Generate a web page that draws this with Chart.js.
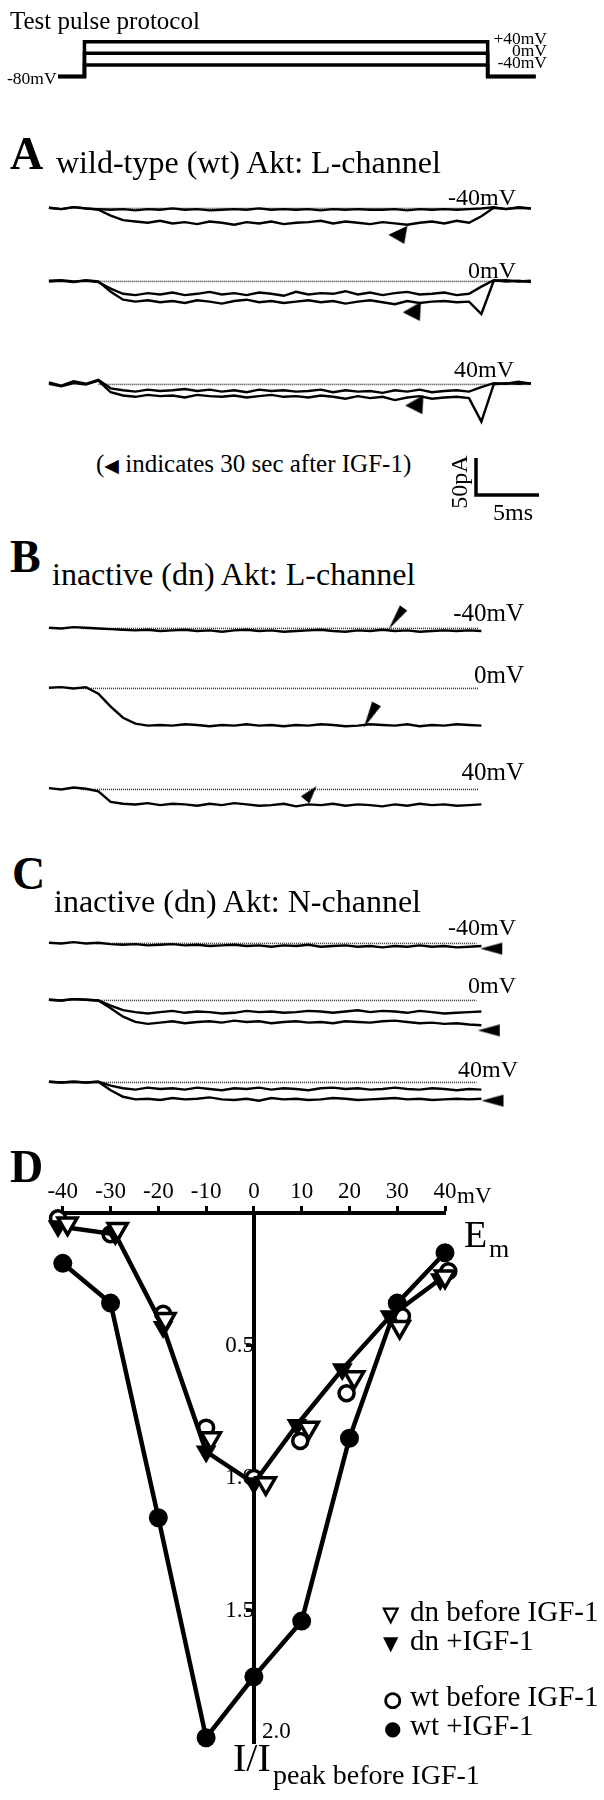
<!DOCTYPE html>
<html>
<head>
<meta charset="utf-8">
<script src="https://cdn.jsdelivr.net/npm/chart.js@4/dist/chart.umd.min.js"></script>
<style>
body { margin: 0; background: #fff; }
#page { position: relative; width: 604px; height: 1800px; overflow: hidden; font-family: "Liberation Serif", "Times New Roman", serif; color: #000; }
#page canvas { position: absolute; }
.t { position: absolute; white-space: nowrap; line-height: 1; }
.g { font-family: "DejaVu Sans", sans-serif; }
</style>
</head>
<body>
<div id="page"></div>
<script>
// ---- test pulse protocol ----
var protoTime = [0, 2.1, 2.1, 34.1, 34.1, 37.9];
var protoPlus40 = [-80, -80, 40, 40, -80, -80];
var protoZero = [-80, -80, 0, 0, -80, -80];
var protoMinus40 = [-80, -80, -40, -40, -80, -80];

// ---- current sweeps (ms, pA) ----
var longTime = [0,1,2,3,4,5,6,7,8,9,10,11,12,13,14,15,16,17,18,19,20,21,22,23,24,25,26,27,28,29,30,31,32,33,34,35,36,37,38,39];
var shortTime = [0,1,2,3,4,5,6,7,8,9,10,11,12,13,14,15,16,17,18,19,20,21,22,23,24,25,26,27,28,29,30,31,32,33,34,35];

// A: wild-type Akt, L-channel
var wtM40Before = [1,-1,2,0,-1,-2,-1,-3,-1,-2,0,-2,-1,-3,-2,-1,-2,0,-2,-1,-2,-1,-3,-1,-2,-1,-2,-2,-1,-3,-1,-2,-1,-2,-1,0,2,-1,1,0];
var wtM40Igf = [1,-1,2,0,-2,-11,-18,-20,-22,-19,-23,-21,-24,-20,-22,-25,-21,-23,-20,-24,-22,-21,-19,-23,-20,-22,-24,-21,-23,-25,-22,-20,-23,-19,-22,-12,1,-1,2,0];
var wt0Before = [1,2,0,1,-1,-11,-19,-21,-18,-20,-17,-21,-19,-16,-20,-18,-21,-17,-19,-22,-16,-20,-18,-19,-15,-20,-17,-21,-18,-16,-20,-19,-17,-21,-19,-8,2,0,1,-1];
var wt0Igf = [0,1,-1,2,0,-16,-28,-31,-29,-32,-30,-33,-29,-31,-34,-30,-28,-32,-30,-33,-31,-29,-32,-30,-34,-31,-29,-32,-35,-30,-33,-31,-30,-32,-31,-50,1,2,0,1];
var wtP40Before = [3,-2,5,1,7,-6,-9,-11,-8,-10,-9,-7,-10,-8,-11,-9,-12,-8,-10,-9,-11,-10,-8,-12,-9,-11,-10,-13,-9,-11,-8,-12,-10,-9,-11,-4,2,1,4,1];
var wtP40Igf = [1,-3,2,0,6,-12,-17,-19,-16,-18,-17,-20,-16,-18,-19,-17,-20,-18,-16,-19,-18,-20,-17,-19,-22,-18,-21,-19,-24,-20,-18,-22,-20,-19,-21,-57,0,2,1,2];

// B: inactive Akt, L-channel
var dnLM40 = [1,0,2,1,0,-1,-2,-3,-2,-4,-3,-2,-4,-3,-5,-3,-2,-4,-3,-5,-4,-3,-2,-4,-5,-3,-4,-2,-4,-3,-5,-4,-3,-4,-3,-4];
var dnL0 = [1,2,0,2,-8,-28,-45,-54,-57,-56,-57,-55,-56,-58,-56,-57,-55,-57,-56,-58,-56,-57,-55,-56,-58,-57,-55,-56,-57,-55,-58,-56,-57,-55,-56,-57];
var dnLP40 = [2,0,3,1,-3,-19,-22,-23,-21,-24,-22,-23,-25,-22,-24,-21,-23,-25,-24,-22,-26,-23,-24,-22,-25,-23,-24,-26,-23,-25,-22,-24,-23,-25,-24,-23];

// C: inactive Akt, N-channel
var dnNM40 = [1,0,2,0,1,-1,-2,-1,-3,-2,-1,-3,-2,-4,-3,-2,-4,-3,-5,-3,-4,-2,-5,-4,-3,-5,-4,-6,-4,-5,-3,-5,-4,-6,-5,-4];
var dnN0Before = [1,0,2,1,0,-8,-15,-18,-20,-18,-16,-19,-17,-18,-20,-19,-16,-18,-17,-19,-18,-16,-17,-19,-17,-15,-18,-16,-17,-19,-16,-18,-20,-19,-18,-17];
var dnN0Igf = [1,0,2,1,0,-12,-25,-33,-36,-34,-32,-35,-33,-32,-34,-31,-33,-32,-35,-33,-32,-34,-33,-35,-32,-33,-34,-32,-31,-33,-35,-34,-36,-35,-37,-38];
var dnNP40Before = [1,0,1,0,1,-5,-9,-11,-8,-10,-9,-11,-8,-10,-12,-9,-10,-8,-11,-9,-10,-12,-9,-8,-10,-9,-11,-10,-8,-10,-11,-9,-10,-12,-10,-11];
var dnNP40Igf = [1,0,1,0,1,-12,-22,-26,-25,-27,-24,-26,-25,-23,-26,-27,-25,-28,-24,-26,-25,-27,-26,-24,-25,-27,-26,-25,-24,-26,-25,-27,-26,-25,-26,-25];

// "30 sec after IGF-1" markers: [ms, pA]
var markA = [[28.5, -44], [29.7, -50], [29.9, -35]];
var markB = [[28.1, 15], [26.0, -42], [21.2, -5.4]];
var markC = [[35.8, -8], [35.6, -46], [35.9, -28]];

var scaleBarMs = 5, scaleBarPa = 50;

// ---- D: I-V relation ----
var ivTicks = [-40, -30, -20, -10, 0, 10, 20, 30, 40];
var ivVm = [-40, -30, -20, -10, 0, 10, 20, 30, 40];
var wtIgf = [0.19, 0.34, 1.15, 1.98, 1.75, 1.54, 0.85, 0.34, 0.15];
var dnIgfVm = [-41, -29, -19, -10, 0, 9, 18.5, 28.5, 39];
var dnIgf = [0.05, 0.08, 0.43, 0.90, 1.02, 0.80, 0.59, 0.39, 0.25];
var dnBeforeVm = [-39, -28.5, -18.5, -9, 2.5, 11.5, 21, 30.5, 40];
var dnBefore = [0.04, 0.06, 0.40, 0.85, 1.02, 0.81, 0.62, 0.43, 0.24];
var wtBeforeVm = [-41, -30, -19, -10, 0, 9.7, 19.4, 31, 40.7];
var wtBefore = [0.02, 0.08, 0.38, 0.81, 1.0, 0.86, 0.68, 0.39, 0.22];

Chart.defaults.font.family = '"Liberation Serif", serif';
Chart.defaults.color = '#000';

var page = document.getElementById('page');
var MS_PX = 12.6, PA_PX = 0.74;

function addCanvas(left, top, w, h) {
    var c = document.createElement('canvas');
    c.width = w;
    c.height = h;
    c.style.left = left + 'px';
    c.style.top = top + 'px';
    c.style.width = w + 'px';
    c.style.height = h + 'px';
    page.appendChild(c);
    return c;
}

function addText(html, x, base, size, opt) {
    opt = opt || {};
    var d = document.createElement('div');
    d.className = 't';
    d.innerHTML = html;
    d.style.fontSize = size + 'px';
    d.style.top = (base - 0.84 * size) + 'px';
    if (opt.right) {
        d.style.right = (604 - x) + 'px';
    } else {
        d.style.left = x + 'px';
    }
    if (opt.bold) d.style.fontWeight = 'bold';
    page.appendChild(d);
    return d;
}

function pts(xs, ys) {
    return xs.map(function (x, i) { return {x: x, y: ys[i]}; });
}

// arrow-head used as point style (tip up, rotated by pointRotation)
function wedge(len, base) {
    var s = Math.ceil(Math.max(len, base)) + 2;
    var c = document.createElement('canvas');
    c.width = s;
    c.height = s;
    var ctx = c.getContext('2d');
    ctx.fillStyle = '#000';
    ctx.beginPath();
    ctx.moveTo(s / 2, (s - len) / 2);
    ctx.lineTo(s / 2 + base / 2, (s + len) / 2);
    ctx.lineTo(s / 2 - base / 2, (s + len) / 2);
    ctx.closePath();
    ctx.fill();
    return c;
}

function baseOptions(xmin, xmax, ymin, ymax) {
    return {
        responsive: false,
        animation: false,
        events: [],
        layout: {padding: 0},
        plugins: {legend: {display: false}, tooltip: {enabled: false}},
        scales: {
            x: {type: 'linear', display: false, min: xmin, max: xmax},
            y: {type: 'linear', display: false, min: ymin, max: ymax}
        }
    };
}

// protocol
(function () {
    var left = 54, top = 30, w = 490, h = 56;
    var c = addCanvas(left, top, w, h);
    var xmin = -(58 - left) / MS_PX;
    var ymax = 40 + (41.7 - top) / 0.291;
    var line = function (v) {
        return {data: pts(protoTime, v), showLine: true, borderColor: '#000', borderWidth: 3.5,
            pointRadius: 0, borderJoinStyle: 'miter', borderCapStyle: 'butt'};
    };
    new Chart(c, {
        type: 'scatter',
        data: {datasets: [line(protoPlus40), line(protoZero), line(protoMinus40)]},
        options: baseOptions(xmin, xmin + w / MS_PX, ymax - h / 0.291, ymax)
    });
})();

function sweepChart(baseY, time, traces, zeroSpan, mark, markStyle) {
    var left = 40, w = 516, above = 30, h = 84;
    var c = addCanvas(left, baseY - above, w, h);
    var xmin = -(44 - left) / MS_PX;
    var ymax = above / PA_PX;
    var ds = [];
    ds.push({data: [{x: mark[0], y: mark[1]}], showLine: false,
        pointStyle: wedge(markStyle.len, markStyle.base), pointRotation: markStyle.rot});
    traces.forEach(function (v) {
        ds.push({data: pts(time, v), showLine: true, borderColor: '#000', borderWidth: 2.4, pointRadius: 0});
    });
    ds.push({data: [{x: zeroSpan[0], y: 0}, {x: zeroSpan[1], y: 0}], showLine: true,
        borderColor: '#333', borderWidth: 1.6, borderDash: [1, 1], pointRadius: 0});
    new Chart(c, {
        type: 'scatter',
        data: {datasets: ds},
        options: baseOptions(xmin, xmin + w / MS_PX, ymax - h / PA_PX, ymax)
    });
}

var wedgeA = {len: 15, base: 21, rot: 155};
var wedgeC = {len: 22, base: 12, rot: 270};
sweepChart(207, longTime, [wtM40Before, wtM40Igf], [4, 39], markA[0], wedgeA);
sweepChart(280, longTime, [wt0Before, wt0Igf], [4, 39], markA[1], {len: 16, base: 21, rot: 150});
sweepChart(383, longTime, [wtP40Before, wtP40Igf], [4, 39], markA[2], {len: 16, base: 21, rot: 150});
sweepChart(627, shortTime, [dnLM40], [2.6, 34.8], markB[0], {len: 26, base: 9, rot: 215});
sweepChart(687, shortTime, [dnL0], [2.6, 34.8], markB[1], {len: 27, base: 10, rot: 208});
sweepChart(788, shortTime, [dnLP40], [2.6, 34.8], markB[2], {len: 18, base: 11, rot: 40});
sweepChart(942, shortTime, [dnNM40], [3.8, 34.6], markC[0], wedgeC);
sweepChart(999, shortTime, [dnN0Before, dnN0Igf], [3.8, 34.6], markC[1], wedgeC);
sweepChart(1081, shortTime, [dnNP40Before, dnNP40Igf], [3.8, 34.6], markC[2], wedgeC);

// scale bar
(function () {
    var left = 470, top = 452, w = 76, h = 48;
    var c = addCanvas(left, top, w, h);
    var xmin = -(476 - left) / MS_PX;
    var ymax = (495 - top) / PA_PX;
    new Chart(c, {
        type: 'scatter',
        data: {datasets: [{data: [{x: 0, y: scaleBarPa}, {x: 0, y: 0}, {x: scaleBarMs, y: 0}],
            showLine: true, borderColor: '#000', borderWidth: 3.5, pointRadius: 0, borderJoinStyle: 'miter'}]},
        options: baseOptions(xmin, xmin + w / MS_PX, ymax - h / PA_PX, ymax)
    });
})();

// I-V chart
(function () {
    var c = addCanvas(0, 1140, 604, 640);
    new Chart(c, {
        type: 'scatter',
        data: {
            datasets: [
                {label: 'dn before IGF-1', data: pts(dnBeforeVm, dnBefore), showLine: false,
                    pointStyle: 'triangle', pointRotation: 180, pointRadius: 11,
                    pointBackgroundColor: '#fff', pointBorderColor: '#000', pointBorderWidth: 3.5, clip: false},
                {label: 'dn +IGF-1', data: pts(dnIgfVm, dnIgf), showLine: true, borderColor: '#000', borderWidth: 4.5,
                    pointStyle: 'triangle', pointRotation: 180, pointRadius: 12,
                    pointBackgroundColor: '#000', pointBorderWidth: 0, clip: false},
                {label: 'wt before IGF-1', data: pts(wtBeforeVm, wtBefore), showLine: false,
                    pointRadius: 7.5, pointBackgroundColor: '#fff', pointBorderColor: '#000', pointBorderWidth: 3.5, clip: false},
                {label: 'wt +IGF-1', data: pts(ivVm, wtIgf), showLine: true, borderColor: '#000', borderWidth: 4.5,
                    pointRadius: 9.5, pointBackgroundColor: '#000', pointBorderWidth: 0, clip: false}
            ]
        },
        options: {
            responsive: false,
            animation: false,
            events: [],
            layout: {padding: {left: 58, right: 159, top: 33, bottom: 37}},
            plugins: {legend: {display: false}, tooltip: {enabled: false}},
            scales: {
                x: {
                    type: 'linear', position: 'top', min: -41, max: 40,
                    afterBuildTicks: function (s) { s.ticks = ivTicks.map(function (v) { return {value: v}; }); },
                    afterFit: function (s) { s.height = 40; s.paddingLeft = 0; s.paddingRight = 0; },
                    ticks: {font: {size: 23}, padding: 0, maxRotation: 0, autoSkip: false,
                        callback: function (v) { return String(v); }},
                    grid: {drawOnChartArea: false, tickLength: 7, tickWidth: 3, tickColor: '#000', color: '#000'},
                    border: {display: true, color: '#000', width: 4}
                },
                y: {
                    type: 'linear', position: {x: 0}, reverse: true, min: 0, max: 2,
                    afterBuildTicks: function (s) { s.ticks = [0.5, 1, 1.5].map(function (v) { return {value: v}; }); },
                    afterFit: function (s) { s.paddingTop = 0; s.paddingBottom = 0; },
                    ticks: {font: {size: 23}, padding: 14, callback: function (v) { return v.toFixed(1); }},
                    grid: {drawOnChartArea: false, tickLength: 6, tickWidth: 3, tickColor: '#000', color: '#000'},
                    border: {display: true, color: '#000', width: 4}
                }
            }
        }
    });
})();

// ---- text ----
addText('Test pulse protocol', 10, 29, 25);
addText('+40mV', 547, 45, 17.5, {right: true});
addText('0mV', 547, 57, 17.5, {right: true});
addText('-40mV', 547, 69, 17.5, {right: true});
addText('-80mV', 7, 85, 17.5);

addText('A', 10, 170, 46, {bold: true});
addText('wild-type (wt) Akt: L-channel', 56, 173, 32);
addText('-40mV', 516, 205, 24, {right: true});
addText('0mV', 516, 278, 24, {right: true});
addText('40mV', 514, 377, 24, {right: true});
addText('(<span class="g" style="font-size:19px">&#9664;</span> indicates 30 sec after IGF-1)', 96, 472, 25);
var pa = addText('50pA', 0, 0, 24);
pa.style.left = '459px';
pa.style.top = '482px';
pa.style.transform = 'translate(-50%, -50%) rotate(-90deg)';
addText('5ms', 493, 520, 24);

addText('B', 10, 573, 46, {bold: true});
addText('inactive (dn) Akt: L-channel', 52, 585, 32);
addText('-40mV', 524, 621, 25, {right: true});
addText('0mV', 524, 683, 25, {right: true});
addText('40mV', 524, 780, 25, {right: true});

addText('C', 12, 890, 46, {bold: true});
addText('inactive (dn) Akt: N-channel', 54, 912, 32);
addText('-40mV', 516, 935, 24, {right: true});
addText('0mV', 516, 993, 24, {right: true});
addText('40mV', 518, 1077, 24, {right: true});

addText('D', 10, 1183, 46, {bold: true});
addText('mV', 457, 1203, 23);
addText('E', 464, 1247, 38);
addText('m', 489, 1258, 26);
addText('2.0', 262, 1738, 23);
addText('I/I', 233, 1772, 40);
addText('peak before IGF-1', 273, 1785, 28);

addText('<span class="g" style="-webkit-text-stroke:1.3px #000">&#9661;</span>', 383, 1621, 20);
addText('dn before IGF-1', 410, 1621, 29);
addText('<span class="g">&#9660;</span>', 383, 1650, 20);
addText('dn +IGF-1', 410, 1650, 29);
addText('<span class="g" style="-webkit-text-stroke:1.6px #000">&#9675;</span>', 384, 1706, 20);
addText('wt before IGF-1', 410, 1706, 29);
addText('<span class="g">&#9679;</span>', 384, 1735, 20);
addText('wt +IGF-1', 410, 1735, 29);
</script>
</body>
</html>
